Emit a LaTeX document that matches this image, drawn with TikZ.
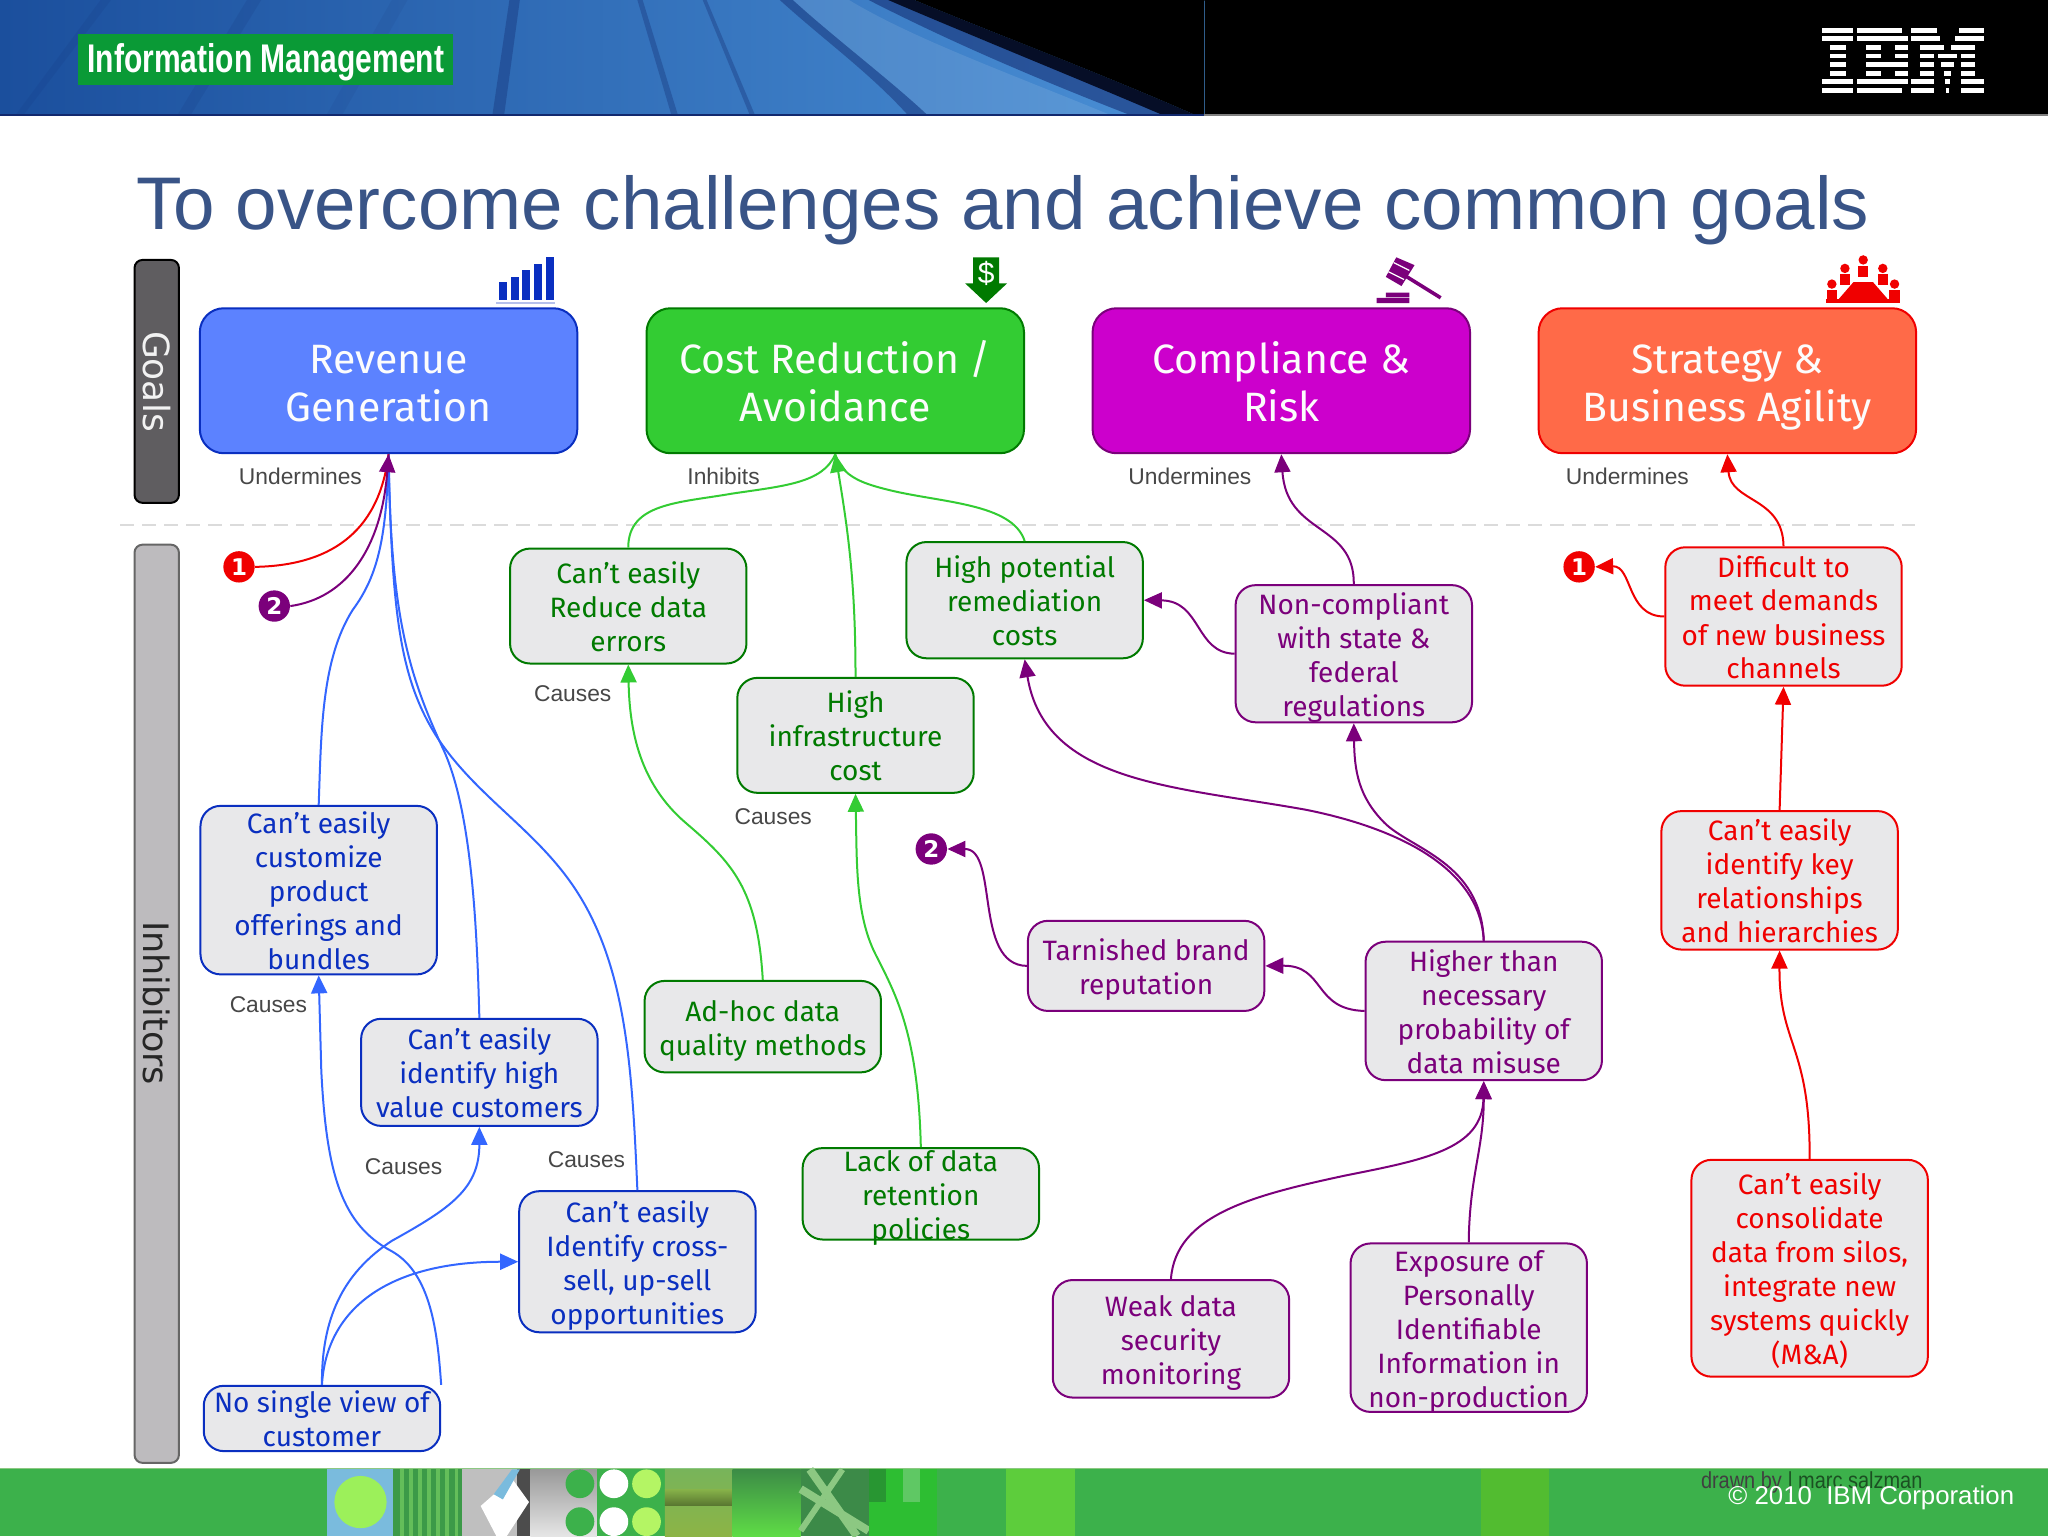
\documentclass[tikz,border=0pt]{standalone}
\usepackage{fontspec}
\setmainfont{Fira Sans}
\newfontfamily\arialf{Liberation Sans}
\newfontfamily\dejav{DejaVu Sans}
\usetikzlibrary{arrows.meta,shapes.geometric}
\def\unt{0.65306pt}
\definecolor{cBlue}{HTML}{0A2FC0}\definecolor{cBlueL}{HTML}{3366FF}\definecolor{cBlueF}{HTML}{5C82FF}
\definecolor{cGreen}{HTML}{007A00}\definecolor{cGreenL}{HTML}{33CC33}
\definecolor{cPurp}{HTML}{7B007B}\definecolor{cMag}{HTML}{CC00CC}
\definecolor{cRed}{HTML}{F00000}\definecolor{cOrange}{HTML}{FF6A48}
\definecolor{cFill}{HTML}{E8E8EA}\definecolor{cTitle}{HTML}{395487}
\definecolor{cFoot}{HTML}{3CB14B}
\definecolor{hdA}{HTML}{1B4F9D}\definecolor{hdM}{HTML}{2266B8}\definecolor{hdB}{HTML}{4A90D6}\definecolor{hdN}{HTML}{12296E}
\definecolor{tagG}{HTML}{0A9A36}\definecolor{barD}{HTML}{5F5D60}\definecolor{barL}{HTML}{BDBBBE}
\definecolor{fA}{HTML}{7ABBDD}\definecolor{fB}{HTML}{9CF05A}\definecolor{fC}{HTML}{3C9A48}\definecolor{fD}{HTML}{64BE5A}
\definecolor{fE}{HTML}{B4F564}\definecolor{fF}{HTML}{78B45A}\definecolor{fG}{HTML}{8CB446}\definecolor{fH}{HTML}{3C8C46}
\definecolor{fI}{HTML}{5FDC46}\definecolor{fJ}{HTML}{3C8A48}\definecolor{fK}{HTML}{8CC882}\definecolor{fL}{HTML}{2DBE32}
\definecolor{fM}{HTML}{289632}\definecolor{fN}{HTML}{5FC864}\definecolor{fO}{HTML}{5DCD3C}\definecolor{fP}{HTML}{52BC30}
\newcommand\ibtxt[1]{\raisebox{-9.7pt}{\smash{\parbox[c]{116pt}{\centering\fontsize{14}{17}\selectfont\strut #1\strut}}}}
\newcommand\gltxt[1]{\raisebox{-12.6pt}{\smash{\parbox[c]{180pt}{\centering\fontsize{20.5}{24}\selectfont\strut #1\strut}}}}
\tikzset{
 goalbox/.style={rounded corners=12pt,line width=1pt,inner sep=0pt,minimum width=289*\unt,minimum height=111*\unt,text=white!88!cFill},
 ibox/.style={rounded corners=10pt,line width=1pt,inner sep=0pt,fill=cFill,minimum width=181*\unt},
 ibblue/.style={ibox,draw=cBlue,text=cBlue},
 ibgreen/.style={ibox,draw=cGreen,text=cGreen},
 ibpurp/.style={ibox,draw=cPurp,text=cPurp},
 ibred/.style={ibox,draw=cRed,text=cRed},
 tag/.style={font=\arialf\fontsize{11.4}{13}\selectfont,text=black!72,inner sep=0pt},
 badge/.style={circle,minimum size=24*\unt,inner sep=0pt,text=white,font=\dejav\bfseries\fontsize{11.5}{12}\selectfont},
 tipb/.style={-{Triangle[length=9pt,width=8pt]}},
 lb/.style={draw=cBlueL,line width=1pt},
 lg/.style={draw=cGreenL,line width=1pt},
 lp/.style={draw=cPurp,line width=1pt},
 lr/.style={draw=cRed,line width=1pt},
 sidebar/.style={rounded corners=4pt,line width=1pt,inner sep=0pt,minimum width=34*\unt},
}
\begin{document}
\begin{tikzpicture}[x=0.65306pt,y=-0.65306pt]
\useasboundingbox (0,0) rectangle (1568,1176);
\fill[white] (0,0) rectangle (1568,1176);
% header
\fill[black] (0,0) rectangle (1568,88);
\shade[left color=hdA,middle color=hdM,right color=hdB] (0,0) rectangle (922,88);
\foreach \a/\b/\c/\d/\o in {77/85/18/12/.1, 189/200/146/136/.12, 300/312/262/250/.08, 390/398/386/377/.35, 488/492/519/514/.32, 538/541/578/574/.32}
  \fill[hdN,opacity=\o] (\a,0) -- (\b,0) -- (\c,88) -- (\d,88) -- cycle;
\fill[white,opacity=.1] (607,0) .. controls (640,30) and (680,60) .. (710,88) -- (850,88) .. controls (770,55) and (700,30) .. (650,0) -- cycle;
\fill[hdN,opacity=.45] (597,0) -- (607,0) .. controls (640,30) and (680,60) .. (710,88) -- (695,88) .. controls (665,55) and (630,30) .. (597,0) -- cycle;
\fill[hdN,opacity=.55] (665,0) -- (688,0) .. controls (735,28) and (820,55) .. (905,88) -- (865,88) .. controls (780,55) and (720,28) .. (665,0) -- cycle;
\fill[black!65!hdN] (680,0) -- (700,0) .. controls (760,25) and (840,55) .. (915,88) -- (890,88) .. controls (820,58) and (750,30) .. (680,0) -- cycle;
\fill[black] (700,0) .. controls (760,25) and (840,55) .. (915,88) -- (922,88) -- (922,0) -- cycle;
\fill[hdN] (0,87.5) rectangle (922,89);
\fill[black!50] (922,87.5) rectangle (1568,89);
\node[fill=tagG,minimum width=287*\unt,minimum height=39*\unt,inner sep=0pt,text=white] (infom) at (203.5,45.5) {\raisebox{-13.1pt}{\smash{\scalebox{0.75}[1]{\arialf\bfseries\fontsize{20}{22}\selectfont Information Management}}}};
% IBM logo (eight stripes)
\foreach \r/\a/\b in {0/1395/1419,1/1395/1419,6/1395/1419,7/1395/1419,2/1401/1413,3/1401/1413,4/1401/1413,5/1401/1413,
 0/1422/1456,1/1422/1461,2/1429/1440,2/1451/1461,3/1429/1440,3/1451/1461,4/1429/1461,5/1429/1440,5/1451/1461,6/1422/1461,7/1422/1456,
 0/1463/1483,0/1499.5/1519,1/1463/1485.5,1/1497/1519,2/1470/1488,2/1494/1512,3/1470/1481,3/1484/1498,3/1501/1512,4/1470/1481,4/1486/1496,4/1501/1512,5/1470/1481,5/1488/1494,5/1501/1512,6/1463/1481,6/1489/1493,6/1501/1519,7/1463/1481,7/1490/1492,7/1501/1519}
  \fill[white] (\a,{21.2+\r*6.6}) rectangle (\b,{24.9+\r*6.6});
% footer
\fill[cFoot] (0,1124) rectangle (1568,1176);
\fill[fK] (0,1124) rectangle (1568,1125);
\fill[fA] (250,1125) rectangle (301,1176);
\fill[fB] (276,1150) circle (20);
\fill[fC] (301,1125) rectangle (354,1176);
\foreach \x in {306,313,320,327,334,341,348} \fill[fD] (\x,1125) rectangle (\x+3,1176);
\fill[gray!50] (354,1125) rectangle (406,1176);
\fill[black!70] (396,1125) rectangle (406,1176);
\fill[white] (368,1153) -- (392,1132) -- (405,1150) -- (388,1176) -- (380,1176) -- cycle;
\fill[fA] (378,1144) -- (392,1125) -- (398,1125) -- (385,1148) -- cycle;
\shade[top color=gray!80,bottom color=gray!20] (406,1125) rectangle (457,1176);
\fill[cFoot] (444,1136) circle (11) (444,1165) circle (11);
\fill[cFoot] (457,1125) rectangle (509,1176);
\fill[white] (470,1136) circle (11) (470,1165) circle (11);
\fill[fE] (495,1136) circle (11) (495,1165) circle (11);
\shade[top color=fF,bottom color=fG] (509,1125) rectangle (561,1176);
\shade[top color=fG,bottom color=black!50!fG,opacity=.7] (509,1140) rectangle (561,1153);
\shade[top color=fH,bottom color=fI] (561,1125) rectangle (613,1176);
\fill[fJ] (613,1125) rectangle (665,1176);
\draw[line width=4pt,fK] (613,1140) -- (665,1172) (620,1125) -- (656,1176);
\draw[line width=3pt,fK] (613,1172) -- (645,1125);
\fill[fL] (665,1125) rectangle (717,1176);
\fill[fM] (665,1125) rectangle (678,1150);
\fill[fN] (691,1125) rectangle (704,1150);
\fill[fO] (770,1125) rectangle (823,1176);
\fill[fP] (1134,1125) rectangle (1186,1176);
\node[inner sep=0pt,anchor=west,text=black!75] (drawn) at (1302,1135) {\scalebox{0.86}[1]{\arialf\fontsize{11.6}{12}\selectfont drawn by {\color{black!55!cFoot}| marc salzman}}};
\node[inner sep=0pt,anchor=west,text=white] (copyr) at (1323,1147) {\arialf\fontsize{12.9}{14}\selectfont © 2010\ \ IBM Corporation};
% title
\node[inner sep=0pt,anchor=base west,text=cTitle] (title) at (104,176) {\arialf\fontsize{37.3}{44}\selectfont To overcome challenges and achieve common goals};
% dashed separator
\draw[black!14,line width=1pt,dash pattern=on 7pt off 4pt] (92,402) -- (1466,402);
% side bars
\node[sidebar,draw=black,fill=barD,minimum height=186*\unt] (goals) at (120,292) {};
\node[text=white!95!black,rotate=-90,inner sep=0pt,font=\dejav\fontsize{18}{20}\selectfont] (goalst) at (120,292) {Goals};
\node[sidebar,draw=black!60,fill=barL,minimum height=703*\unt] (inhib) at (120,768.5) {};
\node[text=black!85,rotate=-90,inner sep=0pt,font=\dejav\fontsize{17.5}{20}\selectfont] (inhibt) at (120,768) {Inhibitors};
% icons
\foreach \x/\t in {382/216,391/212,400/207,409/202,418/197} \fill[cBlue] (\x,\t) rectangle (\x+6,230);
\fill[cBlue!30] (380,231) rectangle (425,232.5);
\fill[cGreen] (745,197) -- (765,197) -- (765,217) -- (771,217) -- (755,232) -- (739,217) -- (745,217) -- cycle;
\node[text=white,inner sep=0pt,font=\arialf\fontsize{15}{16}\selectfont] (dollar) at (755,209) {\$};
\fill[cPurp] (1054,232) rectangle (1079,228) (1061,227.5) rectangle (1079,224);
\fill[cPurp] (1069,197) -- (1083,203) -- (1073,219) -- (1061,212) -- cycle;
\draw[white,line width=0.6pt] (1067,201) -- (1079,207) (1063,208) -- (1075,214);
\draw[cPurp,line width=1.8pt] (1074,210) -- (1103,228);
\fill[cRed] (1419,216) -- (1434,216) -- (1447,231) -- (1406,231) -- cycle;
\fill[cRed] (1398,229) rectangle (1455,232);
\foreach \x/\y in {1426.5/199,1412.5/205.5,1441.5/205.5,1402.5/217.5,1450.5/217.5}{
  \fill[cRed] (\x,\y) circle (3.6);
  \fill[cRed] (\x-4,\y+4.5) rectangle (\x+4,\y+13);
}
% goal nodes
\node[goalbox,draw=cBlue,fill=cBlueF] (rev) at (297.5,291.5) {\gltxt{Revenue\\Generation}};
\node[goalbox,draw=cGreen,fill=cGreenL] (cost) at (639.5,291.5) {\gltxt{Cost Reduction /\\Avoidance}};
\node[goalbox,draw=cPurp,fill=cMag] (comp) at (981,291.5) {\gltxt{Compliance \&\\Risk}};
\node[goalbox,draw=cRed,fill=cOrange] (strat) at (1322.5,291.5) {\gltxt{Strategy \&\\Business Agility}};
% inhibitor nodes
\node[ibblue,minimum height=129*\unt] (cust) at (244,681.5) {\ibtxt{Can’t easily\\customize\\product\\offerings and\\bundles}};
\node[ibblue,minimum height=82*\unt] (hival) at (367,821) {\ibtxt{Can’t easily\\identify high\\value customers}};
\node[ibblue,minimum height=108*\unt] (cross) at (488,966) {\ibtxt{Can’t easily\\Identify cross-\\sell, up-sell\\opportunities}};
\node[ibblue,minimum height=50*\unt] (nosing) at (246.5,1086) {\ibtxt{No single view of\\customer}};
\node[ibgreen,minimum height=88*\unt] (reduce) at (481,464) {\ibtxt{Can’t easily\\Reduce data\\errors}};
\node[ibgreen,minimum height=89*\unt] (hipot) at (784.5,459.5) {\ibtxt{High potential\\remediation\\costs}};
\node[ibgreen,minimum height=88*\unt] (infra) at (655,563) {\ibtxt{High\\infrastructure\\cost}};
\node[ibgreen,minimum height=70*\unt] (adhoc) at (584,786) {\ibtxt{Ad-hoc data\\quality methods}};
\node[ibgreen,minimum height=70*\unt] (lack) at (705,914) {\ibtxt{Lack of data\\retention\\policies}};
\node[ibpurp,minimum height=105*\unt] (noncomp) at (1036.5,500.5) {\ibtxt{Non-compliant\\with state \&\\federal\\regulations}};
\node[ibpurp,minimum height=69*\unt] (tarn) at (877.5,739.5) {\ibtxt{Tarnished brand\\reputation}};
\node[ibpurp,minimum height=106*\unt] (higher) at (1136,774) {\ibtxt{Higher than\\necessary\\probability of\\data misuse}};
\node[ibpurp,minimum height=90*\unt] (weak) at (896.5,1025) {\ibtxt{Weak data\\security\\monitoring}};
\node[ibpurp,minimum height=129*\unt] (expo) at (1124.5,1016.5) {\ibtxt{Exposure of\\Personally\\Identifiable\\Information in\\non-production}};
\node[ibred,minimum height=106*\unt] (diff) at (1365.5,472) {\ibtxt{Difficult to\\meet demands\\of new business\\channels}};
\node[ibred,minimum height=106*\unt] (ident) at (1362.5,674) {\ibtxt{Can’t easily\\identify key\\relationships\\and hierarchies}};
\node[ibred,minimum height=166*\unt] (consol) at (1385.5,971) {\ibtxt{Can’t easily\\consolidate\\data from silos,\\integrate new\\systems quickly\\(M\&A)}};
% badges
\node[badge,fill=cRed] (ba) at (183,434) {1};
\node[badge,fill=cPurp] (bb) at (210,464) {2};
\node[badge,fill=cPurp] (bc) at (713,650) {2};
\node[badge,fill=cRed] (bd) at (1209,434) {1};
% labels
\node[tag] (t1) at (230,365) {Undermines};
\node[tag] (t2) at (554,365) {Inhibits};
\node[tag] (t3) at (911,365) {Undermines};
\node[tag] (t4) at (1246,365) {Undermines};
\node[tag] (t5) at (438.5,531) {Causes};
\node[tag] (t6) at (592,625) {Causes};
\node[tag] (t7) at (205.5,769) {Causes};
\node[tag] (t8) at (309,893) {Causes};
\node[tag] (t9) at (449,888) {Causes};
% blue connectors
\draw[lb] (cust.north) .. controls (246,560) and (246,505) .. (270,467) .. controls (290,440) and (296,410) .. (rev.south);
\draw[lb] (hival.north) .. controls (365,700) and (360,620) .. (340,575) .. controls (312,515) and (299,470) .. (rev.south);
\draw[lb] (cross.north) .. controls (484,820) and (480,740) .. (440,680) .. controls (410,635) and (365,610) .. (335,565) .. controls (306,520) and (300,470) .. (rev.south);
\draw[lb,tipb,cBlueL] (nosing.north east) .. controls (335,1020) and (330,975) .. (300,958) .. controls (262,938) and (250,900) .. (246,820) -- (cust.south);
\draw[lb,tipb,cBlueL] (nosing.north) .. controls (246,1010) and (262,975) .. (300,950) .. controls (345,925) and (367,910) .. (hival.south);
\draw[lb,tipb,cBlueL] (nosing.north) .. controls (250,1000) and (300,966) .. (cross.west);
\draw[lr] (ba.east) .. controls (250,433) and (290,410) .. (rev.south);
\draw[lp,tipb,cPurp] (bb.east) .. controls (265,458) and (292,420) .. (rev.south);
% green connectors
\draw[lg] (reduce.north) .. controls (481,385) and (520,385) .. (560,378) .. controls (600,372) and (630,370) .. (cost.south);
\draw[lg] (hipot.north) .. controls (775,385) and (720,385) .. (680,375) .. controls (660,370) and (645,365) .. (cost.south);
\draw[lg,tipb,cGreenL] (infra.north) .. controls (655,450) and (650,410) .. (cost.south);
\draw[lg,tipb,cGreenL] (adhoc.north) .. controls (580,680) and (560,660) .. (525,630) .. controls (490,600) and (482,560) .. (reduce.south);
\draw[lg,tipb,cGreenL] (lack.north) .. controls (703,790) and (685,760) .. (670,730) .. controls (655,700) and (656,660) .. (infra.south);
% purple connectors
\draw[lp,tipb,cPurp] (noncomp.north) .. controls (1037,400) and (985,410) .. (comp.south);
\draw[lp,tipb,cPurp] (noncomp.west) .. controls (915,500) and (920,460) .. (hipot.east);
\draw[lp,tipb,cPurp] (higher.north) .. controls (1134,660) and (1080,650) .. (1060,630) .. controls (1040,610) and (1037,590) .. (noncomp.south);
\draw[lp,tipb,cPurp] (higher.north) .. controls (1133,660) and (1060,632) .. (1000,620) .. controls (900,602) and (800,600) .. (hipot.south);
\draw[lp,tipb,cPurp] (higher.west) .. controls (1005,773) and (1015,739) .. (tarn.east);
\draw[lp,tipb,cPurp] (tarn.west) .. controls (745,739) and (765,650) .. (bc.east);
\draw[lp,tipb,cPurp] (weak.north) .. controls (900,930) and (960,915) .. (1030,900) .. controls (1090,888) and (1135,880) .. (higher.south);
\draw[lp,tipb,cPurp] (expo.north) .. controls (1125,900) and (1136,880) .. (higher.south);
% red connectors
\draw[lr,tipb,cRed] (diff.north) .. controls (1365,380) and (1325,385) .. (strat.south);
\draw[lr,tipb,cRed] (diff.west) .. controls (1245,472) and (1250,433) .. (bd.east);
\draw[lr,tipb,cRed] (ident.north) -- (diff.south);
\draw[lr,tipb,cRed] (consol.north) .. controls (1386,800) and (1362,800) .. (ident.south);
\end{tikzpicture}
\end{document}
